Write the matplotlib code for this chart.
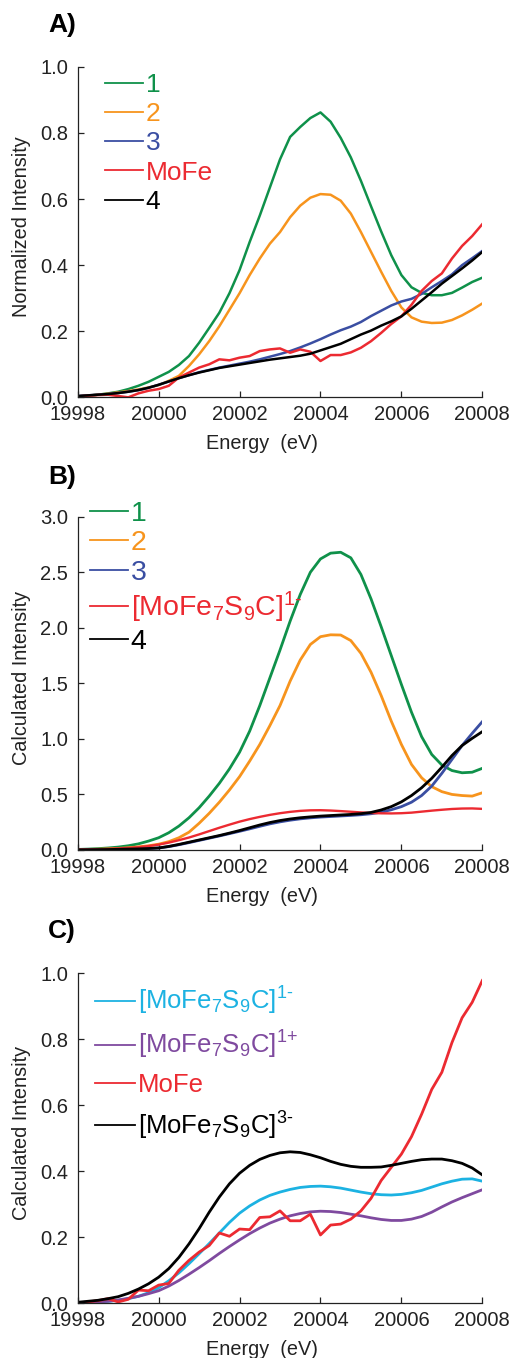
import numpy as np
import matplotlib
matplotlib.use("Agg")
import matplotlib.pyplot as plt
from matplotlib.ticker import MultipleLocator, FormatStrFormatter

plt.rcParams['font.family'] = ['Liberation Sans', 'DejaVu Sans']
plt.rcParams['mathtext.fontset'] = 'custom'
plt.rcParams['mathtext.rm'] = 'Liberation Sans'
plt.rcParams['mathtext.it'] = 'Liberation Sans:italic'
plt.rcParams['mathtext.bf'] = 'Liberation Sans:bold'

GREEN = "#0f914a"
ORANGE = "#f7941d"
BLUE = "#3a4ea2"
RED = "#ec2a31"
CYAN = "#1cb2e2"
PURPLE = "#7f4a9f"
BLACK = "#000000"

# energy grid (eV), 0.25 eV steps
energy = np.arange(19998, 20008.001, 0.25)

# A) normalized experimental intensity
a_1 = [0.003, 0.005, 0.008, 0.012, 0.017, 0.025, 0.035, 0.047, 0.062, 0.077, 0.098,
       0.125, 0.165, 0.21, 0.256, 0.315, 0.385, 0.47, 0.55, 0.635, 0.72, 0.788, 0.818,
       0.845, 0.862, 0.834, 0.785, 0.726, 0.655, 0.578, 0.502, 0.43, 0.37, 0.333, 0.316,
       0.309, 0.309, 0.316, 0.332, 0.349, 0.362]
a_2 = [0.003, 0.005, 0.008, 0.011, 0.015, 0.019, 0.024, 0.03, 0.037, 0.05, 0.065,
       0.095, 0.13, 0.17, 0.215, 0.265, 0.315, 0.37, 0.42, 0.465, 0.5, 0.545, 0.58,
       0.604, 0.615, 0.613, 0.595, 0.556, 0.5, 0.44, 0.38, 0.322, 0.272, 0.242, 0.229,
       0.225, 0.226, 0.234, 0.248, 0.265, 0.284]
a_3 = [0.004, 0.006, 0.008, 0.01, 0.013, 0.017, 0.022, 0.029, 0.038, 0.048, 0.058,
       0.067, 0.076, 0.083, 0.09, 0.096, 0.102, 0.108, 0.115, 0.123, 0.131, 0.14, 0.151,
       0.163, 0.176, 0.19, 0.203, 0.214, 0.228, 0.246, 0.262, 0.278, 0.29, 0.298, 0.313,
       0.333, 0.352, 0.372, 0.4, 0.421, 0.443]
a_mofe = [0.003, 0.005, 0.007, 0.008, 0.004, 0.0, 0.012, 0.02, 0.025, 0.035, 0.06,
          0.075, 0.09, 0.1, 0.115, 0.112, 0.12, 0.125, 0.14, 0.145, 0.148, 0.135, 0.145,
          0.138, 0.11, 0.128, 0.128, 0.136, 0.15, 0.17, 0.195, 0.222, 0.245, 0.28, 0.322,
          0.352, 0.375, 0.42, 0.458, 0.488, 0.524]
a_4 = [0.004, 0.006, 0.008, 0.01, 0.013, 0.017, 0.022, 0.029, 0.038, 0.048, 0.058,
       0.067, 0.075, 0.082, 0.089, 0.094, 0.099, 0.104, 0.109, 0.114, 0.118, 0.122, 0.126,
       0.132, 0.142, 0.152, 0.162, 0.176, 0.19, 0.202, 0.217, 0.23, 0.245, 0.268, 0.293,
       0.318, 0.344, 0.367, 0.39, 0.414, 0.44]

# B) calculated intensity
b_1 = [0.005, 0.008, 0.012, 0.018, 0.026, 0.038, 0.055, 0.08, 0.11, 0.155, 0.215,
       0.29, 0.38, 0.485, 0.6, 0.73, 0.88, 1.07, 1.3, 1.55, 1.8, 2.06, 2.3,
       2.5, 2.62, 2.672, 2.68, 2.63, 2.48, 2.26, 2.01, 1.75, 1.49, 1.24, 1.02,
       0.86, 0.765, 0.715, 0.695, 0.7, 0.735]
b_2 = [0.003, 0.005, 0.007, 0.01, 0.014, 0.02, 0.028, 0.038, 0.052, 0.075, 0.11,
       0.16, 0.24, 0.33, 0.43, 0.54, 0.66, 0.8, 0.95, 1.12, 1.3, 1.52, 1.71,
       1.85, 1.92, 1.937, 1.935, 1.885, 1.77, 1.6, 1.39, 1.16, 0.95, 0.77, 0.65,
       0.57, 0.525, 0.5, 0.49, 0.485, 0.515]
b_3 = [0.001, 0.002, 0.003, 0.004, 0.006, 0.008, 0.01, 0.013, 0.018, 0.03, 0.047,
       0.066, 0.086, 0.106, 0.126, 0.147, 0.168, 0.19, 0.213, 0.235, 0.253, 0.268, 0.28,
       0.289, 0.296, 0.301, 0.306, 0.311, 0.317, 0.326, 0.34, 0.362, 0.39, 0.43, 0.49,
       0.575, 0.69, 0.815, 0.94, 1.05, 1.155]
b_1m = [0.002, 0.004, 0.006, 0.009, 0.013, 0.018, 0.025, 0.035, 0.048, 0.066, 0.088,
        0.112, 0.14, 0.17, 0.2, 0.228, 0.255, 0.278, 0.298, 0.316, 0.331, 0.343, 0.352,
        0.357, 0.358, 0.355, 0.35, 0.344, 0.338, 0.333, 0.33, 0.329, 0.331, 0.336, 0.345,
        0.354, 0.362, 0.369, 0.373, 0.374, 0.37]
b_4 = [0.001, 0.002, 0.003, 0.004, 0.006, 0.008, 0.01, 0.013, 0.018, 0.032, 0.05,
       0.07, 0.09, 0.11, 0.13, 0.152, 0.175, 0.2, 0.225, 0.247, 0.265, 0.279, 0.29,
       0.298, 0.305, 0.31, 0.315, 0.32, 0.327, 0.338, 0.36, 0.39, 0.433, 0.49, 0.56,
       0.645, 0.745, 0.85, 0.94, 1.005, 1.065]

# C) calculated intensity for different charge states
c_1m = [0.001, 0.002, 0.004, 0.006, 0.009, 0.014, 0.021, 0.032, 0.047, 0.068, 0.092,
        0.12, 0.15, 0.181, 0.213, 0.245, 0.273, 0.295, 0.313, 0.327, 0.337, 0.345, 0.351,
        0.354, 0.355, 0.353, 0.349, 0.343, 0.337, 0.332, 0.329, 0.328, 0.33, 0.335, 0.342,
        0.352, 0.362, 0.37, 0.376, 0.377, 0.37]
c_1p = [0.001, 0.002, 0.004, 0.006, 0.01, 0.015, 0.021, 0.029, 0.038, 0.052, 0.069,
        0.088, 0.108, 0.129, 0.151, 0.172, 0.192, 0.211, 0.228, 0.243, 0.255, 0.265, 0.272,
        0.277, 0.279, 0.278, 0.275, 0.27, 0.265, 0.259, 0.254, 0.251, 0.251, 0.255, 0.263,
        0.276, 0.292, 0.307, 0.32, 0.332, 0.344]
c_mofe = [0.001, 0.004, 0.008, 0.014, 0.004, 0.012, 0.04, 0.038, 0.055, 0.06, 0.1,
          0.13, 0.155, 0.175, 0.213, 0.203, 0.225, 0.223, 0.26, 0.262, 0.28, 0.25, 0.25,
          0.27, 0.207, 0.237, 0.24, 0.255, 0.28, 0.318, 0.372, 0.412, 0.452, 0.505, 0.573,
          0.648, 0.7, 0.79, 0.865, 0.912, 0.978]
c_3m = [0.003, 0.006, 0.009, 0.014, 0.02, 0.03, 0.043, 0.059, 0.079, 0.105, 0.139,
        0.18, 0.226, 0.276, 0.322, 0.362, 0.394, 0.418, 0.436, 0.448, 0.456, 0.459, 0.457,
        0.45, 0.441, 0.43, 0.421, 0.415, 0.412, 0.412, 0.413, 0.418, 0.424, 0.43, 0.435,
        0.437, 0.437, 0.432, 0.424, 0.41, 0.389]

FE = r'[MoFe$_7$S$_9$C]'


def style_axes(ax, ymax, ystep, ylabel):
    ax.set_xlim(19998, 20008)
    ax.set_ylim(0, ymax)
    ax.xaxis.set_major_locator(MultipleLocator(2))
    ax.yaxis.set_major_locator(MultipleLocator(ystep))
    ax.yaxis.set_major_formatter(FormatStrFormatter('%.1f'))
    ax.xaxis.set_major_formatter(FormatStrFormatter('%d'))
    for s in ['top', 'right']:
        ax.spines[s].set_visible(False)
    for s in ['left', 'bottom']:
        ax.spines[s].set_linewidth(0.9)
        ax.spines[s].set_color('#222222')
    ax.tick_params(axis='both', direction='in', length=4, width=0.9,
                   colors='#222222', labelsize=14.5, labelcolor='#222222')
    ax.tick_params(axis='x', pad=5.5)
    ax.tick_params(axis='y', pad=7)
    ax.set_xlabel('Energy  (eV)', fontsize=14.3, color='#222222')
    ax.set_ylabel(ylabel, fontsize=14.3, color='#222222')
    ax.xaxis.set_label_coords(0.455, -0.112)
    ax.yaxis.set_label_coords(-0.115, 0.517)


def add_legend(ax, anchor, size, hlen, spacing):
    leg = ax.legend(loc='upper left', bbox_to_anchor=anchor, frameon=False,
                    fontsize=size, handlelength=hlen, handletextpad=0.1,
                    labelspacing=spacing, borderpad=0, borderaxespad=0,
                    labelcolor='linecolor')
    for h in leg.legend_handles:
        h.set_linewidth(1.3)
    return leg


fig = plt.figure(figsize=(5.12, 13.58), dpi=100)
ax_a = fig.add_axes([0.1518, 0.7074, 0.7902, 0.2434])
ax_b = fig.add_axes([0.1518, 0.3741, 0.7902, 0.2454])
ax_c = fig.add_axes([0.1518, 0.0403, 0.7902, 0.2430])

# panel A
ax_a.plot(energy, a_1, color=GREEN, lw=1.8, label='1')
ax_a.plot(energy, a_2, color=ORANGE, lw=1.8, label='2')
ax_a.plot(energy, a_3, color=BLUE, lw=1.8, label='3')
ax_a.plot(energy, a_mofe, color=RED, lw=1.8, label='MoFe')
ax_a.plot(energy, a_4, color=BLACK, lw=1.8, label='4')
style_axes(ax_a, 1.0, 0.2, 'Normalized Intensity')
add_legend(ax_a, (0.0675, 0.982), 19, 1.44, 0.2)

# panel B
ax_b.plot(energy, b_1, color=GREEN, lw=2.0, label='1')
ax_b.plot(energy, b_2, color=ORANGE, lw=2.0, label='2')
ax_b.plot(energy, b_3, color=BLUE, lw=2.0, label='3')
ax_b.plot(energy, b_1m, color=RED, lw=1.7, label=FE + r'$^{1\text{-}}$')
ax_b.plot(energy, b_4, color=BLACK, lw=2.0, label='4')
style_axes(ax_b, 3.0, 0.5, 'Calculated Intensity')
add_legend(ax_b, (0.030, 1.048), 20.5, 1.34, 0.13)

# panel C
ax_c.plot(energy, c_1m, color=CYAN, lw=2.0, label=FE + r'$^{1\text{-}}$')
ax_c.plot(energy, c_1p, color=PURPLE, lw=2.0, label=FE + r'$^{1\text{+}}$')
ax_c.plot(energy, c_mofe, color=RED, lw=2.0, label='MoFe')
ax_c.plot(energy, c_3m, color=BLACK, lw=2.0, label=FE + r'$^{3\text{-}}$')
style_axes(ax_c, 1.0, 0.2, 'Calculated Intensity')
add_legend(ax_c, (0.043, 0.965), 18.5, 1.56, 0.47)

for letter, y in [('A)', 25), ('B)', 477), ('C)', 931)]:
    fig.text(48 / 512, 1 - y / 1358, letter, fontsize=19, fontweight='bold',
             ha='left', va='center')

fig.savefig('out.png', dpi=100)
